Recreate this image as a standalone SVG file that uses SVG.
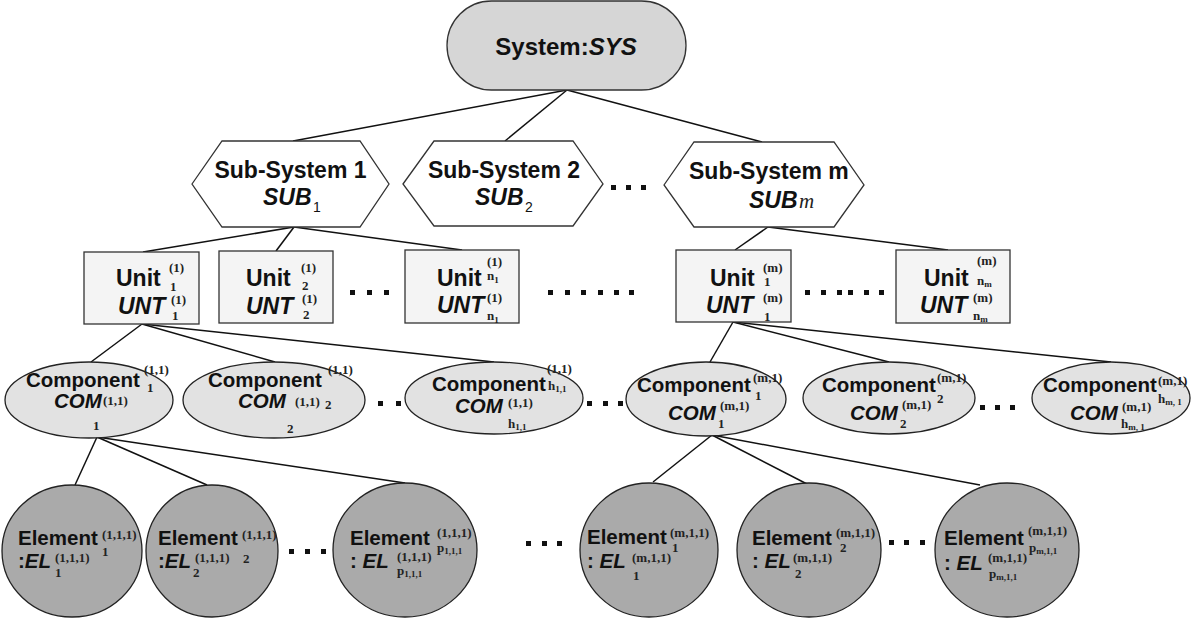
<svg xmlns="http://www.w3.org/2000/svg" width="1200" height="624" viewBox="0 0 1200 624">
  <style>
    .t { font-family: "Liberation Sans", Arial, sans-serif; font-weight: bold; fill: #111; }
    .i { font-style: italic; }
    .ix { font-family: "Liberation Serif", "Times New Roman", serif; font-weight: bold; font-size: 13px; fill: #222; }
    .sm { font-size: 9px; }
    .sf { font-family: "Liberation Sans", Arial, sans-serif; font-size: 14px; fill: #111; }
    .mi { font-family: "Liberation Serif", "Times New Roman", serif; font-style: italic; font-size: 21px; fill: #222; }
    .sys { fill: #d6d6d6; stroke: #333; stroke-width: 1.3; }
    .hex { fill: #fff; stroke: #333; stroke-width: 1.3; }
    .box { fill: #f4f4f4; stroke: #333; stroke-width: 1.3; }
    .com { fill: #e2e2e2; stroke: #222; stroke-width: 1.3; }
    .el { fill: #aaaaaa; stroke: #222; stroke-width: 1.3; }
    .conn line { stroke: #111; stroke-width: 1.5; }
    .dots rect { fill: #111; }
    .f24 { font-size: 24px; }
    .f23 { font-size: 23px; }
    .f20 { font-size: 20.5px; }
  </style>

  <!-- tree edges -->
  <g id="connectors" class="conn">
    <line x1="567" y1="90" x2="293" y2="141"/>
    <line x1="567" y1="90" x2="505" y2="141"/>
    <line x1="567" y1="90" x2="762" y2="142"/>
    <line x1="294" y1="227" x2="143" y2="252"/>
    <line x1="294" y1="227" x2="276" y2="251"/>
    <line x1="294" y1="227" x2="462" y2="250"/>
    <line x1="768" y1="227" x2="735" y2="250"/>
    <line x1="768" y1="227" x2="948" y2="250"/>
    <line x1="142" y1="324" x2="91" y2="362"/>
    <line x1="142" y1="324" x2="275" y2="362"/>
    <line x1="142" y1="324" x2="494" y2="362"/>
    <line x1="733" y1="322" x2="710" y2="362"/>
    <line x1="733" y1="322" x2="889" y2="362"/>
    <line x1="733" y1="322" x2="1111" y2="362"/>
    <line x1="97" y1="437" x2="75" y2="485"/>
    <line x1="97" y1="437" x2="207" y2="485"/>
    <line x1="97" y1="437" x2="405" y2="483"/>
    <line x1="712" y1="435" x2="653" y2="482"/>
    <line x1="712" y1="435" x2="807" y2="484"/>
    <line x1="712" y1="435" x2="980" y2="485"/>
  </g>

  <!-- ellipsis marks between siblings -->
  <g id="ellipses" class="dots">
    <rect x="611" y="185" width="5" height="5"/><rect x="626" y="185" width="5" height="5"/><rect x="641" y="185" width="5" height="5"/>
    <rect x="350" y="290" width="5" height="5"/><rect x="367" y="290" width="5" height="5"/><rect x="384" y="290" width="5" height="5"/>
    <rect x="548" y="290" width="5" height="5"/><rect x="565" y="290" width="5" height="5"/><rect x="581" y="290" width="5" height="5"/>
    <rect x="598" y="290" width="5" height="5"/><rect x="614" y="290" width="5" height="5"/><rect x="629" y="290" width="5" height="5"/>
    <rect x="805" y="290" width="5" height="5"/><rect x="821" y="290" width="5" height="5"/><rect x="837" y="290" width="5" height="5"/>
    <rect x="848" y="290" width="5" height="5"/><rect x="864" y="290" width="5" height="5"/><rect x="879" y="290" width="5" height="5"/>
    <rect x="378" y="401" width="5" height="5"/><rect x="396" y="401" width="5" height="5"/><rect x="414" y="401" width="5" height="5"/>
    <rect x="587" y="401" width="5" height="5"/><rect x="603" y="401" width="5" height="5"/><rect x="618" y="401" width="5" height="5"/>
    <rect x="980" y="405" width="5" height="5"/><rect x="995" y="405" width="5" height="5"/><rect x="1010" y="405" width="5" height="5"/>
    <rect x="289" y="549" width="5" height="5"/><rect x="305" y="549" width="5" height="5"/><rect x="321" y="549" width="5" height="5"/>
    <rect x="526" y="541" width="5" height="5"/><rect x="542" y="541" width="5" height="5"/><rect x="557" y="541" width="5" height="5"/>
    <rect x="889" y="540" width="5" height="5"/><rect x="904" y="540" width="5" height="5"/><rect x="920" y="540" width="5" height="5"/>
  </g>

  <!-- level 0 -->
  <g id="sys">
    <rect class="sys" x="447" y="1" width="239" height="89" rx="44.5"/>
    <text class="t f24" x="566" y="55" text-anchor="middle">System:<tspan class="i">SYS</tspan></text>
  </g>

  <!-- level 1: sub-systems -->
  <g id="sub-1">
    <polygon class="hex" points="192,184 222,141 360,141 389,184 360,227 222,227"/>
    <text class="t f23" x="290.5" y="178" text-anchor="middle">Sub-System 1</text>
    <text class="t f23 i" x="263" y="205">SUB</text>
    <text class="sf" x="313" y="212">1</text>
  </g>
  <g id="sub-2">
    <polygon class="hex" points="403,184 434,141 573,141 603,184 573,226 434,226"/>
    <text class="t f23" x="504" y="178" text-anchor="middle">Sub-System 2</text>
    <text class="t f23 i" x="475" y="205">SUB</text>
    <text class="sf" x="525" y="212">2</text>
  </g>
  <g id="sub-m">
    <polygon class="hex" points="664,185 694,142 834,142 864,185 834,227 694,227"/>
    <text class="t f23" x="689" y="179">Sub-System m</text>
    <text class="t f23 i" x="749" y="208">SUB</text>
    <text class="mi" x="799" y="208">m</text>
  </g>

  <!-- level 2: units -->
  <g id="unt-1-1">
    <rect class="box" x="84" y="252" width="115" height="72"/>
    <text class="t f23" x="116" y="286">Unit</text>
    <text class="ix" x="169" y="272">(1)</text>
    <text class="ix" x="170" y="291">1</text>
    <text class="t f23 i" x="118" y="314">UNT</text>
    <text class="ix" x="171" y="304">(1)</text>
    <text class="ix" x="172" y="320">1</text>
  </g>
  <g id="unt-1-2">
    <rect class="box" x="219" y="251" width="114" height="72"/>
    <text class="t f23" x="246" y="286">Unit</text>
    <text class="ix" x="301" y="272">(1)</text>
    <text class="ix" x="302" y="290">2</text>
    <text class="t f23 i" x="246" y="314">UNT</text>
    <text class="ix" x="302" y="303">(1)</text>
    <text class="ix" x="303" y="319">2</text>
  </g>
  <g id="unt-1-n1">
    <rect class="box" x="405" y="250" width="114" height="73"/>
    <text class="t f23" x="437" y="286">Unit</text>
    <text class="ix" x="487" y="266">(1)</text>
    <text class="ix" x="487" y="280">n<tspan class="sm" dy="3">1</tspan></text>
    <text class="t f23 i" x="437" y="313">UNT</text>
    <text class="ix" x="487" y="302">(1)</text>
    <text class="ix" x="487" y="320">n<tspan class="sm" dy="3">1</tspan></text>
  </g>
  <g id="unt-m-1">
    <rect class="box" x="676" y="250" width="115" height="72"/>
    <text class="t f23" x="710" y="286">Unit</text>
    <text class="ix" x="763" y="272">(m)</text>
    <text class="ix" x="764" y="286">1</text>
    <text class="t f23 i" x="706" y="313">UNT</text>
    <text class="ix" x="763" y="302">(m)</text>
    <text class="ix" x="764" y="321">1</text>
  </g>
  <g id="unt-m-nm">
    <rect class="box" x="896" y="250" width="114" height="73"/>
    <text class="t f23" x="924" y="286">Unit</text>
    <text class="ix" x="977" y="265">(m)</text>
    <text class="ix" x="977" y="285">n<tspan class="sm" dy="2">m</tspan></text>
    <text class="t f23 i" x="920" y="313">UNT</text>
    <text class="ix" x="973" y="302">(m)</text>
    <text class="ix" x="973" y="320">n<tspan class="sm" dy="2">m</tspan></text>
  </g>

  <!-- level 3: components -->
  <g id="com-1-1">
    <ellipse class="com" cx="89" cy="400" rx="84" ry="38"/>
    <text class="t f20" x="26" y="387">Component</text>
    <text class="ix" x="144" y="374">(1,1)</text>
    <text class="ix" x="147" y="392">1</text>
    <text class="t f20 i" x="54" y="408">COM</text>
    <text class="ix" x="103" y="405">(1,1)</text>
    <text class="ix" x="93" y="430">1</text>
  </g>
  <g id="com-1-2">
    <ellipse class="com" cx="274" cy="400" rx="91" ry="38"/>
    <text class="t f20" x="208" y="387">Component</text>
    <text class="ix" x="328" y="374">(1,1)</text>
    <text class="ix" x="325" y="409">2</text>
    <text class="t f20 i" x="238" y="408">COM</text>
    <text class="ix" x="295" y="406">(1,1)</text>
    <text class="ix" x="287" y="433">2</text>
  </g>
  <g id="com-1-h">
    <ellipse class="com" cx="494" cy="398" rx="89" ry="36"/>
    <text class="t f20" x="432" y="391">Component</text>
    <text class="ix" x="547" y="373">(1,1)</text>
    <text class="ix" x="548" y="390">h<tspan class="sm" dy="2">1,1</tspan></text>
    <text class="t f20 i" x="455" y="413">COM</text>
    <text class="ix" x="508" y="407">(1,1)</text>
    <text class="ix" x="508" y="428">h<tspan class="sm" dy="2">1,1</tspan></text>
  </g>
  <g id="com-m-1">
    <ellipse class="com" cx="706" cy="399" rx="80" ry="37"/>
    <text class="t f20" x="637" y="392">Component</text>
    <text class="ix" x="753" y="382">(m,1)</text>
    <text class="ix" x="755" y="400">1</text>
    <text class="t f20 i" x="668" y="420">COM</text>
    <text class="ix" x="720" y="410">(m,1)</text>
    <text class="ix" x="718" y="428">1</text>
  </g>
  <g id="com-m-2">
    <ellipse class="com" cx="889" cy="398" rx="86" ry="36"/>
    <text class="t f20" x="822" y="392">Component</text>
    <text class="ix" x="937" y="382">(m,1)</text>
    <text class="ix" x="937" y="403">2</text>
    <text class="t f20 i" x="850" y="420">COM</text>
    <text class="ix" x="902" y="409">(m,1)</text>
    <text class="ix" x="900" y="428">2</text>
  </g>
  <g id="com-m-h">
    <ellipse class="com" cx="1111" cy="398" rx="79" ry="36"/>
    <text class="t f20" x="1043" y="392">Component</text>
    <text class="ix" x="1158" y="385">(m,1)</text>
    <text class="ix" x="1158" y="403">h<tspan class="sm" dy="2">m, 1</tspan></text>
    <text class="t f20 i" x="1070" y="420">COM</text>
    <text class="ix" x="1122" y="411">(m,1)</text>
    <text class="ix" x="1121" y="428">h<tspan class="sm" dy="2">m, 1</tspan></text>
  </g>

  <!-- level 4: elements -->
  <g id="el-1">
    <ellipse class="el" cx="72" cy="551" rx="70" ry="66"/>
    <text class="t f20" x="18" y="545">Element</text>
    <text class="ix" x="102" y="539">(1,1,1)</text>
    <text class="ix" x="102" y="556">1</text>
    <text class="t f20" x="18" y="568">:<tspan class="i">EL</tspan></text>
    <text class="ix" x="55" y="562">(1,1,1)</text>
    <text class="ix" x="55" y="577">1</text>
  </g>
  <g id="el-2">
    <ellipse class="el" cx="212" cy="551" rx="66" ry="66"/>
    <text class="t f20" x="158" y="545">Element</text>
    <text class="ix" x="242" y="539">(1,1,1)</text>
    <text class="ix" x="243" y="563">2</text>
    <text class="t f20" x="158" y="568">:<tspan class="i">EL</tspan></text>
    <text class="ix" x="195" y="562">(1,1,1)</text>
    <text class="ix" x="193" y="577">2</text>
  </g>
  <g id="el-p">
    <ellipse class="el" cx="405" cy="550" rx="72" ry="67"/>
    <text class="t f20" x="350" y="545">Element</text>
    <text class="ix" x="437" y="537">(1,1,1)</text>
    <text class="ix" x="437" y="552">p<tspan class="sm" dy="2">1,1,1</tspan></text>
    <text class="t f20" x="350" y="568">: <tspan class="i">EL</tspan></text>
    <text class="ix" x="397" y="561">(1,1,1)</text>
    <text class="ix" x="397" y="575">p<tspan class="sm" dy="2">1,1,1</tspan></text>
  </g>
  <g id="el-m-1">
    <ellipse class="el" cx="649" cy="550" rx="69" ry="67"/>
    <text class="t f20" x="587" y="544">Element</text>
    <text class="ix" x="670" y="537">(m,1,1)</text>
    <text class="ix" x="672" y="552">1</text>
    <text class="t f20" x="587" y="568">: <tspan class="i">EL</tspan></text>
    <text class="ix" x="632" y="562">(m,1,1)</text>
    <text class="ix" x="633" y="580">1</text>
  </g>
  <g id="el-m-2">
    <ellipse class="el" cx="809" cy="550" rx="72" ry="67"/>
    <text class="t f20" x="752" y="545">Element</text>
    <text class="ix" x="836" y="537">(m,1,1)</text>
    <text class="ix" x="840" y="552">2</text>
    <text class="t f20" x="752" y="568">: <tspan class="i">EL</tspan></text>
    <text class="ix" x="793" y="562">(m,1,1)</text>
    <text class="ix" x="795" y="578">2</text>
  </g>
  <g id="el-m-p">
    <ellipse class="el" cx="1007" cy="550" rx="72" ry="67"/>
    <text class="t f20" x="944" y="545">Element</text>
    <text class="ix" x="1028" y="535">(m,1,1)</text>
    <text class="ix" x="1029" y="552">p<tspan class="sm" dy="2">m,1,1</tspan></text>
    <text class="t f20" x="944" y="570">: <tspan class="i">EL</tspan></text>
    <text class="ix" x="988" y="562">(m,1,1)</text>
    <text class="ix" x="989" y="578">p<tspan class="sm" dy="2">m,1,1</tspan></text>
  </g>
</svg>
